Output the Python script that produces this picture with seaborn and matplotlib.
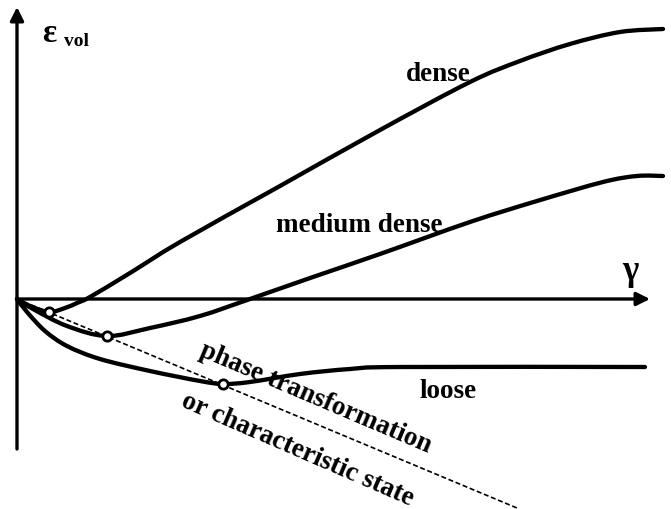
import matplotlib
matplotlib.use("Agg")
import matplotlib.pyplot as plt
from matplotlib.path import Path
from matplotlib.patches import PathPatch
import seaborn as sns
import pandas as pd

# shear strain (gamma) and volumetric strain (eps_vol), arbitrary units
dense_x = [0, 13, 32, 48, 60, 73, 113, 163, 263, 363, 453, 503, 553, 603, 646]
dense_y = [0, -7, -13, -9, -4, 2, 26, 57, 113, 169, 217, 238, 255, 267, 270]

medium_x = [0, 16, 50, 90, 133, 183, 233, 296, 363, 453, 520, 586, 620, 646]
medium_y = [0, -10, -27, -37, -29, -17, 0, 22, 45, 77, 98, 117, 123, 123]

loose_x = [0, 10, 28, 50, 83, 133, 183, 206, 233, 283, 333, 383, 628]
loose_y = [0, -13, -32, -47, -60, -72, -82, -85, -83, -75, -70, -68, -68]

# phase transformation points (minimum of each curve)
pt_x = [32, 90, 206]
pt_y = [-13, -37, -85]

# characteristic state line
cs_x = [0, 500]
cs_y = [0, -209]

sns.set_theme(style="white")
plt.rcParams["font.family"] = ["Liberation Serif", "DejaVu Serif"]
plt.rcParams["font.weight"] = "bold"

fig = plt.figure(figsize=(6.71, 5.10), dpi=100)
ax = fig.add_axes([0, 0, 1, 1])
ax.set_xlim(-17, 654)
ax.set_ylim(-210, 300)
ax.axis("off")


def smooth_path(xs, ys):
    """Catmull-Rom curve through the given points, as cubic Bezier segments."""
    pts = list(zip(xs, ys))
    verts = [pts[0]]
    codes = [Path.MOVETO]
    n = len(pts)
    for i in range(n - 1):
        p0 = pts[i - 1] if i > 0 else pts[i]
        p1 = pts[i]
        p2 = pts[i + 1]
        p3 = pts[i + 2] if i + 2 < n else pts[i + 1]
        c1 = (p1[0] + (p2[0] - p0[0]) / 6, p1[1] + (p2[1] - p0[1]) / 6)
        c2 = (p2[0] - (p3[0] - p1[0]) / 6, p2[1] - (p3[1] - p1[1]) / 6)
        verts += [c1, c2, p2]
        codes += [Path.CURVE4] * 3
    return Path(verts, codes)


curves = pd.concat([
    pd.DataFrame({"gamma": dense_x, "eps": dense_y, "state": "dense"}),
    pd.DataFrame({"gamma": medium_x, "eps": medium_y, "state": "medium dense"}),
    pd.DataFrame({"gamma": loose_x, "eps": loose_y, "state": "loose"}),
])
for name, grp in curves.groupby("state", sort=False):
    ax.add_patch(PathPatch(smooth_path(grp["gamma"].tolist(), grp["eps"].tolist()),
                           facecolor="none", edgecolor="black", lw=3.1,
                           capstyle="round", joinstyle="round", zorder=3))

sns.lineplot(x=cs_x, y=cs_y, ax=ax, color="black", lw=1.2,
             linestyle=(0, (3, 1.6)), legend=False)

# axes with arrowheads
ax.annotate("", xy=(633, 0), xytext=(0, 0),
            arrowprops=dict(arrowstyle="-|>", lw=2.4, color="black",
                            mutation_scale=20, shrinkA=0, shrinkB=0))
ax.annotate("", xy=(0, 292), xytext=(0, -150),
            arrowprops=dict(arrowstyle="-|>", lw=2.4, color="black",
                            mutation_scale=20, shrinkA=0, shrinkB=0))

sns.scatterplot(x=pt_x, y=pt_y, ax=ax, marker="o", s=45,
                facecolor="white", edgecolor="black", linewidth=2.0,
                zorder=5, legend=False)

txt = dict(color="black", fontweight="bold")
ax.text(25, 258, "ε", fontsize=24, ha="left", va="baseline", **txt)
ax.text(47, 254, "vol", fontsize=14, ha="left", va="baseline", **txt)
ax.text(613, 29, "γ", fontsize=25, ha="center", va="center", **txt)
ax.text(421, 219, "dense", fontsize=19.5, ha="center", va="baseline", **txt)
ax.text(342, 68, "medium dense", fontsize=19.5, ha="center", va="baseline", **txt)
ax.text(431, -98, "loose", fontsize=19.5, ha="center", va="baseline", **txt)
ax.text(299, -98, "phase transformation", fontsize=19.5, ha="center",
        va="center", rotation=-23, rotation_mode="anchor", **txt)
ax.text(281, -150, "or characteristic state", fontsize=19.5, ha="center",
        va="center", rotation=-23.5, rotation_mode="anchor", **txt)

fig.savefig("out.png", dpi=100, facecolor="white")
